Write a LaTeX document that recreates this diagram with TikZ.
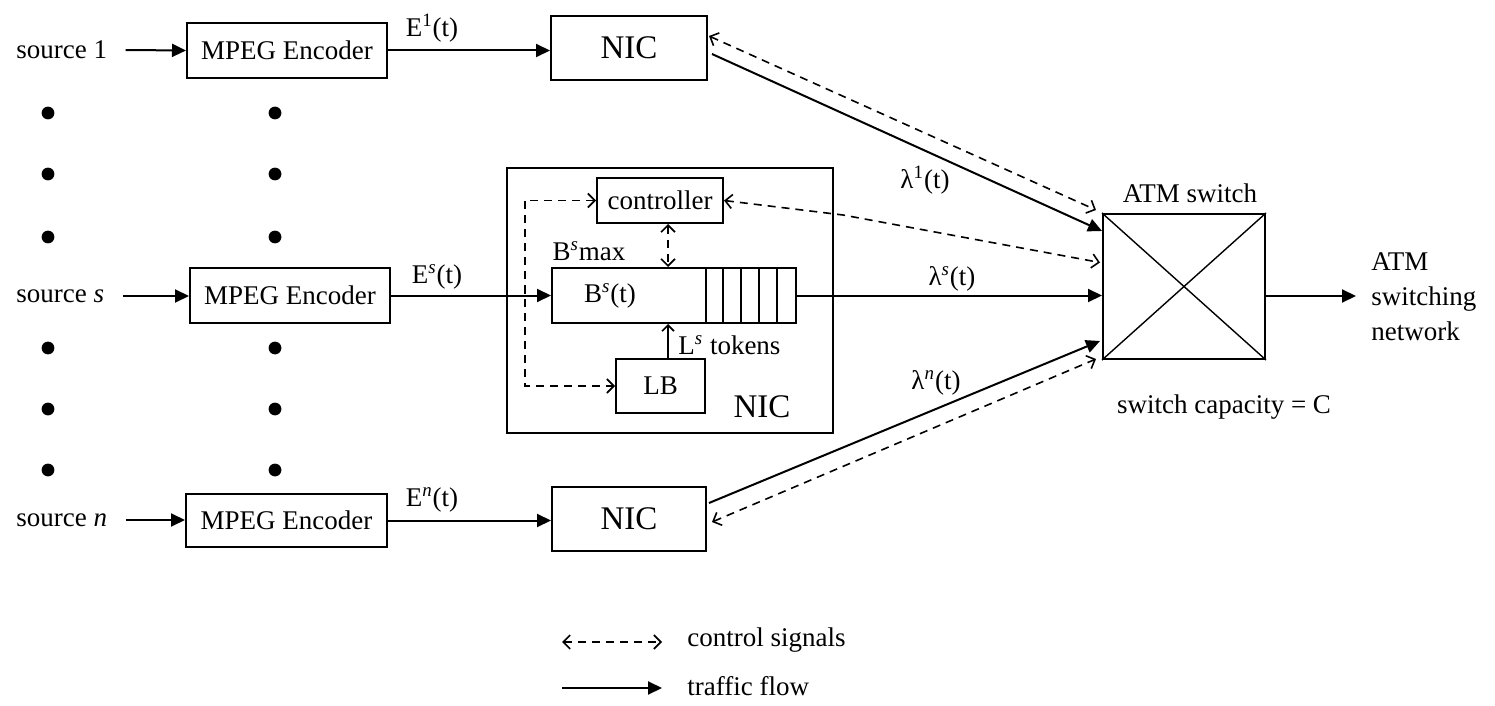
\documentclass[tikz,border=0pt]{standalone}
\usepackage{fontspec}
\setmainfont{Liberation Serif}
\usetikzlibrary{arrows.meta,calc}

\tikzset{
  txt/.style={font=\fontsize{13.5}{17}\selectfont, inner sep=0pt},
  big/.style={font=\fontsize{16.5}{19}\selectfont, inner sep=0pt},
  box/.style={draw, line width=1pt, inner sep=0pt, txt},
  flow/.style={line width=1pt, -{Triangle[length=7pt,width=6.5pt]}},
  ctl/.style={line width=0.8pt, dash pattern=on 4pt off 3pt,
    {Straight Barb[length=3.5pt,width=7pt]}-{Straight Barb[length=3.5pt,width=7pt]}},
  dot/.style={fill=black},
}

\begin{document}
\begin{tikzpicture}[x=0.5pt,y=-0.5pt]
\useasboundingbox (0,0) rectangle (1495,706);

% sources
\node[txt,anchor=west] (src1) at (16,50) {source 1};
\node[txt,anchor=west] (srcs) at (16,296) {source \textit{s}};
\node[txt,anchor=west] (srcn) at (16,520) {source \textit{n}};

% MPEG encoders
\node[box,minimum width=100pt,minimum height=27.5pt] (enc1) at (287,50.5) {MPEG Encoder};
\node[box,minimum width=100pt,minimum height=27.5pt] (encs) at (290,295.5) {MPEG Encoder};
\node[box,minimum width=100.5pt,minimum height=26.5pt] (encn) at (286.5,520.5) {MPEG Encoder};

% ellipsis dots
\foreach \dx in {48,275}
  \foreach \dy in {113,174,237,348,409,470}
    \fill[dot] (\dx,\dy) circle[radius=3.2pt];

% stand-alone NICs
\node[box,big,draw,minimum width=78pt,minimum height=32pt] (nic1) at (629,48) {NIC};
\node[box,big,draw,minimum width=77pt,minimum height=32pt] (nicn) at (629,519) {NIC};

% detailed NIC of source s
\draw[line width=1pt] (507,168) rectangle (833,433);
\node[big,anchor=center] (nicslbl) at (762,407) {NIC};
\node[box,minimum width=63pt,minimum height=22.5pt] (ctrl) at (660,200.5) {controller};
\node[draw,line width=1pt,minimum width=122pt,minimum height=27.5pt,inner sep=0pt] (buf) at (674,295.5) {};
\foreach \cx in {706,723,741,759,777}
  \draw[line width=1pt] (\cx,268) -- (\cx,323);
\node[txt] (bst) at (610,296) {B\textsuperscript{\textit{s}}(t)};
\node[txt] (bmax) at (589,251) {B\textsuperscript{\textit{s}}max};
\node[box,minimum width=44.5pt,minimum height=27pt] (lb) at (660.5,386) {LB};
\node[txt,anchor=west] (tok) at (678,345) {L\textsuperscript{\textit{s}} tokens};
\coordinate (cb) at ($(ctrl.south)+(8,0)$);
\coordinate (lt) at ($(lb.north)+(7.5,0)$);

% ATM switch
\node[draw,line width=1pt,minimum width=81pt,minimum height=72.5pt,inner sep=0pt] (sw) at (1184,286.5) {};
\draw[line width=0.7pt] (sw.north west) -- (sw.south east);
\draw[line width=0.7pt] (sw.south west) -- (sw.north east);
\node[txt] (swlbl) at (1190,193) {ATM switch};
\node[txt] (cap) at (1224,407) {switch capacity = C};
\node[txt,anchor=west,align=left,font=\fontsize{13.5}{17.5}\selectfont] (net) at (1371,297) {ATM\\switching\\network};
\coordinate (out) at (1356,296);

% traffic flow
\draw[flow] ([xshift=9pt]src1.east) -- (enc1.west);
\draw[flow] ([xshift=9pt]srcs.east) -- (srcs.east -| encs.west);
\draw[flow] ([xshift=9pt]srcn.east) -- (srcn.east -| encn.west);
\draw[flow] (enc1.east) -- (enc1.east -| nic1.west);
\draw[flow] (encs.east) -- (encs.east -| buf.west);
\draw[flow] (encn.east) -- (encn.east -| nicn.west);
\draw[flow] (buf.east) -- (buf.east -| sw.west);
\draw[flow] ($(nic1.east)+(4,6)$) -- ($(sw.north west)+(0,18)$);
\draw[flow] ($(nicn.east)+(2,-16)$) -- ($(sw.south west)+(-2,-19)$);
\draw[flow] (sw.east |- out) -- (out);
\draw[line width=0.8pt,-{Straight Barb[length=3pt,width=6pt]}] (lt) -- (lt |- buf.south);

% control signals
\draw[ctl] ($(nic1.north east)+(1,21)$) -- ($(sw.north west)+(-6,-3)$);
\draw[ctl] ($(nicn.east)+(5,3)$) -- ($(sw.south west)+(-6,-1)$);
\draw[ctl] (ctrl.east) -- (843,215) -- ($(sw.west)+(-2,-24)$);
\draw[ctl] (cb) -- (cb |- buf.north);
\draw[ctl] (ctrl.west) -| (525,293) |- (lb.west);

% signal labels
\node[txt] (e1) at (432,28) {E\textsuperscript{1}(t)};
\node[txt] (es) at (437,277) {E\textsuperscript{\textit{s}}(t)};
\node[txt] (en) at (432,500) {E\textsuperscript{\textit{n}}(t)};
\node[txt] (l1) at (925,180) {λ\textsuperscript{1}(t)};
\node[txt] (ls) at (952,279) {λ\textsuperscript{\textit{s}}(t)};
\node[txt] (ln) at (936,383) {λ\textsuperscript{\textit{n}}(t)};

% legend
\coordinate (lc1) at (562,642);
\coordinate (lc2) at (662,642);
\coordinate (lf1) at (562,688);
\coordinate (lf2) at (662,688);
\draw[ctl] (lc1) -- (lc2);
\draw[flow] (lf1) -- (lf2);
\node[txt,anchor=west] (lcl) at (687,640) {control signals};
\node[txt,anchor=west] (lfl) at (687,686) {traffic flow};
\end{tikzpicture}
\end{document}
